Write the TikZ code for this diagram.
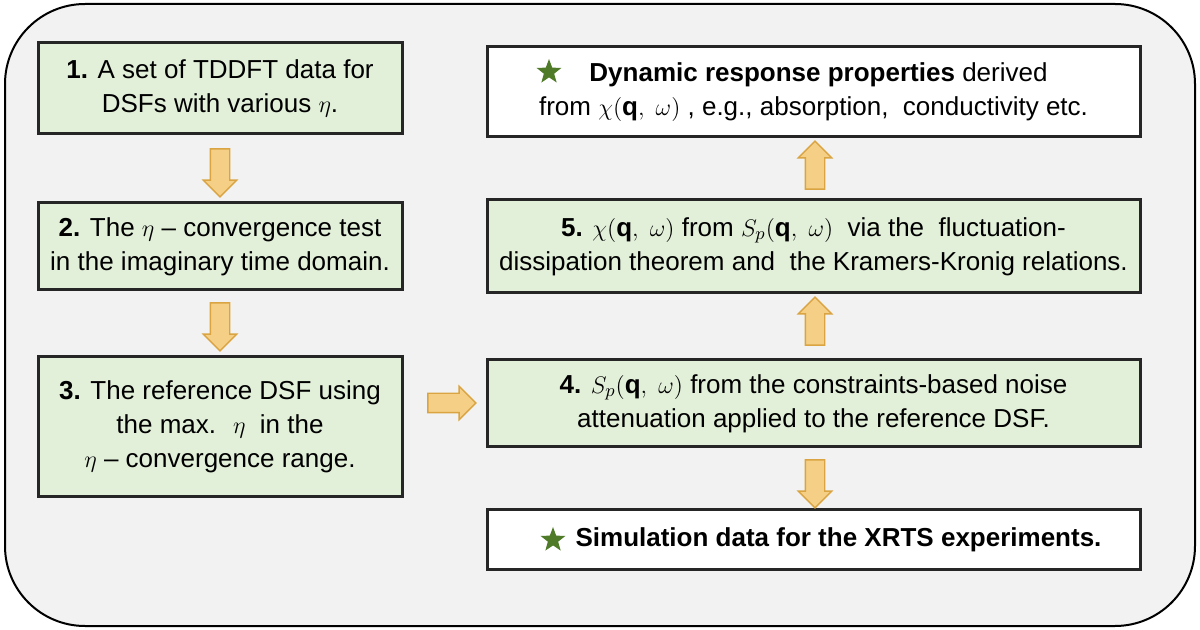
\documentclass[tikz,border=0pt]{standalone}
\usepackage{fontspec}
\setmainfont{Liberation Sans}
\usetikzlibrary{shapes.arrows,shapes.geometric}
\definecolor{boxg}{HTML}{E2EFD9}
\definecolor{bg}{HTML}{F2F2F2}
\definecolor{arf}{HTML}{F5CF86}
\definecolor{ard}{HTML}{D9A441}
\definecolor{stg}{HTML}{4F7A28}
\begin{document}
\begin{tikzpicture}[x=0.5pt,y=-0.5pt,
 box/.style={draw=black!85,line width=1.5pt,fill=boxg,align=center,font=\fontsize{13}{17}\selectfont,inner sep=0pt},
 wbox/.style={box,fill=white},
 blk/.style={single arrow,draw=ard,fill=arf,line width=0.7pt,single arrow head extend=3.5pt,single arrow head indent=0pt,minimum height=24pt,inner xsep=0pt,inner ysep=4.5pt},
 st/.style={star,star points=5,star point ratio=2.4,fill=stg,minimum size=13pt,inner sep=0pt}]
\useasboundingbox (0,0) rectangle (1200,630);
\draw[fill=bg,line width=1pt,rounded corners=40pt] (5,4) rectangle (1195,626);
\node[box,minimum width=182pt,minimum height=45.5pt] (b1) at (220,88.5) {\textbf{1.} A set of TDDFT data for\\DSFs with various $\eta$.};
\node[box,minimum width=182pt,minimum height=43.5pt] (b2) at (220,246.5) {\textbf{2.} The $\eta$ -- convergence test\\in the imaginary time domain.};
\node[box,minimum width=182pt,minimum height=70pt] (b3) at (220,427) {\textbf{3.} The reference DSF using\\the max.~ $\eta$~ in the\\$\eta$ -- convergence range.};
\node[wbox,minimum width=326.5pt,minimum height=45pt] (t) at (813.5,92) {\hspace*{5pt}\textbf{Dynamic response properties} derived\\from $\chi(\mathbf{q},\ \omega)$ , e.g., absorption,~ conductivity etc.};
\node[box,minimum width=326.5pt,minimum height=46.5pt] (b5) at (813.5,246.5) {\textbf{5.} $\chi(\mathbf{q},\ \omega)$ from $S_p(\mathbf{q},\ \omega)$~ via the~ fluctuation-\\dissipation theorem and~ the Kramers-Kronig relations.};
\node[box,minimum width=326.5pt,minimum height=43.5pt] (b4) at (813.5,403.5) {\textbf{4.} $S_p(\mathbf{q},\ \omega)$ from the constraints-based noise\\attenuation applied to the reference DSF.};
\node[wbox,minimum width=326.5pt,minimum height=30pt] (s) at (813.5,540) {\hspace*{25pt}\textbf{Simulation data for the XRTS experiments.}};
\node[st] (s1) at (549,72) {};
\node[st] (s2) at (553,540) {};
\node[blk,rotate=-90] (a12) at (220,168) {};
\node[blk,rotate=-90] (a23) at (220,322) {};
\node[blk] (a34) at (447,403) {};
\node[blk,rotate=90] (a45) at (815,326) {};
\node[blk,rotate=90] (a5t) at (815,170) {};
\node[blk,rotate=-90] (a4s) at (815,479) {};
\end{tikzpicture}
\end{document}
